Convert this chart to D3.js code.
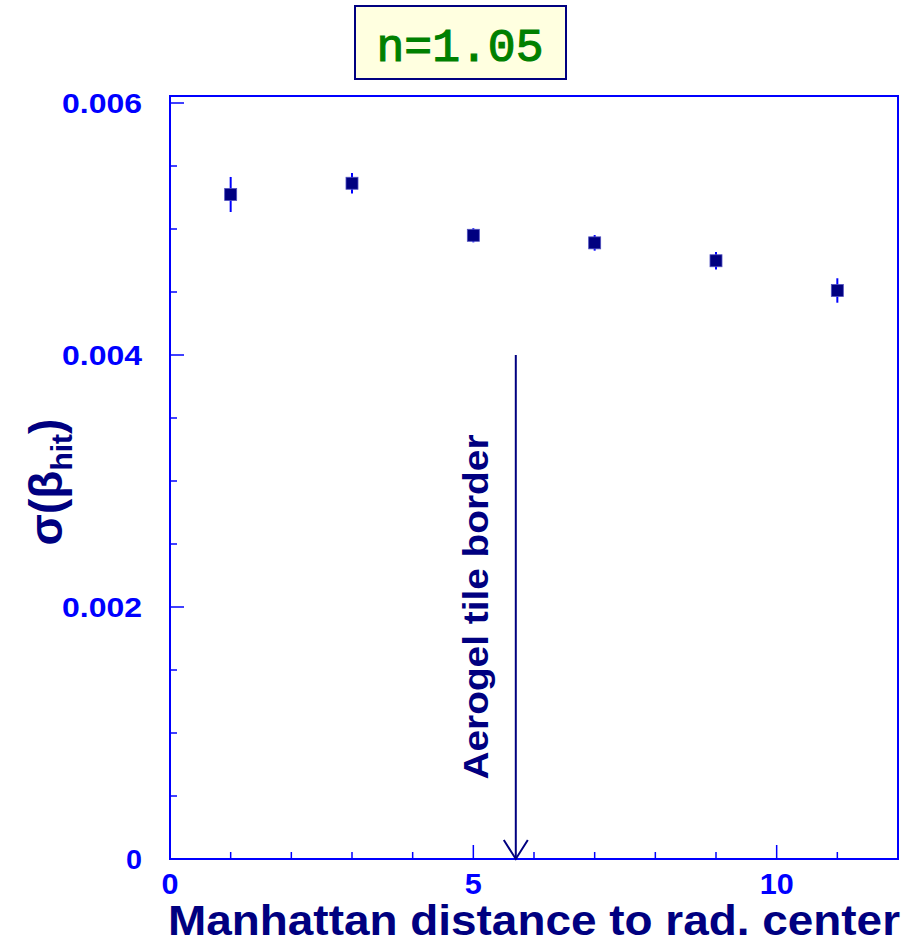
<!DOCTYPE html>
<html><head><meta charset="utf-8">
<script src="https://cdn.jsdelivr.net/npm/d3@7"></script>
<style>body{margin:0;background:#fff}svg{display:block}</style>
</head><body>
<svg id="c" width="921" height="946"></svg>
<script>
const xValues = [1, 3, 5, 7, 9, 11];
const yValues = [0.005274, 0.005363, 0.00495, 0.00489, 0.004748, 0.004512];
const yErrors = [0.000139, 0.000081, 0.000056, 0.000062, 0.00007, 0.000097];
const xTickLabels = [0, 5, 10];
const yTickLabels = [0, 0.002, 0.004, 0.006];
const arrowX = 5.7;
const arrowTop = 0.004;

const svg = d3.select("#c");
const x = d3.scaleLinear().domain([0, 12]).range([170, 898]);
const y = d3.scaleLinear().domain([0, 0.006]).range([859, 103]);
const blue = "#0000ff", navy = "#000080";
const sans = "'Liberation Sans', Arial, sans-serif";

// frame
svg.append("rect").attr("x", 170).attr("y", 96).attr("width", 728).attr("height", 763)
  .attr("fill", "none").attr("stroke", blue).attr("stroke-width", 2);

// x ticks (inward)
const xt = d3.range(0, 13, 1);
svg.selectAll(".xt").data(xt).join("line")
  .attr("x1", d => x(d)).attr("x2", d => x(d))
  .attr("y1", 859).attr("y2", d => d % 5 === 0 ? 845 : 852)
  .attr("stroke", blue).attr("stroke-width", 1.5);
svg.selectAll(".xl").data(xTickLabels).join("text")
  .attr("x", d => x(d)).attr("y", 894).attr("text-anchor", "middle")
  .attr("font-family", sans).attr("font-weight", "bold")
  .attr("font-size", 29).attr("fill", blue)
  .attr("textLength", d => String(d).length * 17).attr("lengthAdjust", "spacingAndGlyphs")
  .text(d => d);

// y ticks
const yt = d3.range(0, 13, 1).map(i => i * 0.0005);
svg.selectAll(".yt").data(yt).join("line")
  .attr("y1", d => y(d)).attr("y2", d => y(d))
  .attr("x1", 170).attr("x2", (d, i) => i % 4 === 0 ? 184 : 177)
  .attr("stroke", blue).attr("stroke-width", 1.5);
svg.selectAll(".yl").data(yTickLabels).join("text")
  .attr("x", 142).attr("y", d => y(d) + 10).attr("text-anchor", "end")
  .attr("font-family", sans).attr("font-weight", "bold")
  .attr("font-size", 28).attr("fill", blue)
  .attr("textLength", d => d === 0 ? 16 : 80).attr("lengthAdjust", "spacingAndGlyphs")
  .text(d => d === 0 ? "0" : d.toFixed(3));

// error bars
svg.selectAll(".eb").data(xValues).join("line")
  .attr("x1", d => x(d)).attr("x2", d => x(d))
  .attr("y1", (d, i) => y(yValues[i] - yErrors[i]))
  .attr("y2", (d, i) => y(yValues[i] + yErrors[i]))
  .attr("stroke", blue).attr("stroke-width", 2);
// markers
svg.selectAll(".pt").data(xValues).join("rect")
  .attr("x", d => x(d) - 6).attr("y", (d, i) => y(yValues[i]) - 6)
  .attr("width", 12).attr("height", 12).attr("fill", navy)
  .attr("stroke", "#5050c0").attr("stroke-width", 0.8);

// arrow
const ax = x(arrowX);
svg.append("line").attr("x1", ax).attr("x2", ax).attr("y1", y(arrowTop)).attr("y2", y(0))
  .attr("stroke", navy).attr("stroke-width", 2);
svg.append("path")
  .attr("d", `M${ax - 12},${y(0) - 19} L${ax},${y(0)} L${ax + 12},${y(0) - 19}`)
  .attr("fill", "none").attr("stroke", navy).attr("stroke-width", 2);
svg.append("text")
  .attr("transform", `translate(488,${607}) rotate(-90)`)
  .attr("text-anchor", "middle")
  .attr("font-family", sans).attr("font-weight", "bold")
  .attr("font-size", 35).attr("fill", navy)
  .attr("textLength", 345).attr("lengthAdjust", "spacingAndGlyphs")
  .text("Aerogel tile border");

// axis titles
svg.append("text").attr("x", 168).attr("y", 935)
  .attr("font-family", sans).attr("font-weight", "bold")
  .attr("font-size", 42).attr("fill", navy)
  .attr("textLength", 732).attr("lengthAdjust", "spacingAndGlyphs")
  .text("Manhattan distance to rad. center");

const yl = svg.append("text")
  .attr("transform", "translate(62,482) rotate(-90)")
  .attr("text-anchor", "middle")
  .attr("font-family", sans).attr("font-weight", "bold")
  .attr("font-size", 46).attr("fill", navy);
yl.append("tspan").text("σ(β");
yl.append("tspan").attr("font-size", 30).attr("dy", 10).text("hit");
yl.append("tspan").attr("dy", -10).text(")");

// title box
svg.append("rect").attr("x", 355).attr("y", 6).attr("width", 211).attr("height", 73)
  .attr("fill", "#ffffe0").attr("stroke", navy).attr("stroke-width", 2);
svg.append("text").attr("x", 460).attr("y", 61).attr("text-anchor", "middle")
  .attr("font-family", "'Liberation Mono', 'Courier New', monospace")
  .attr("font-size", 47).attr("fill", "#008000")
  .attr("stroke", "#008000").attr("stroke-width", 1.2)
  .attr("textLength", 167).attr("lengthAdjust", "spacingAndGlyphs")
  .text("n=1.05");
</script>
</body></html>
